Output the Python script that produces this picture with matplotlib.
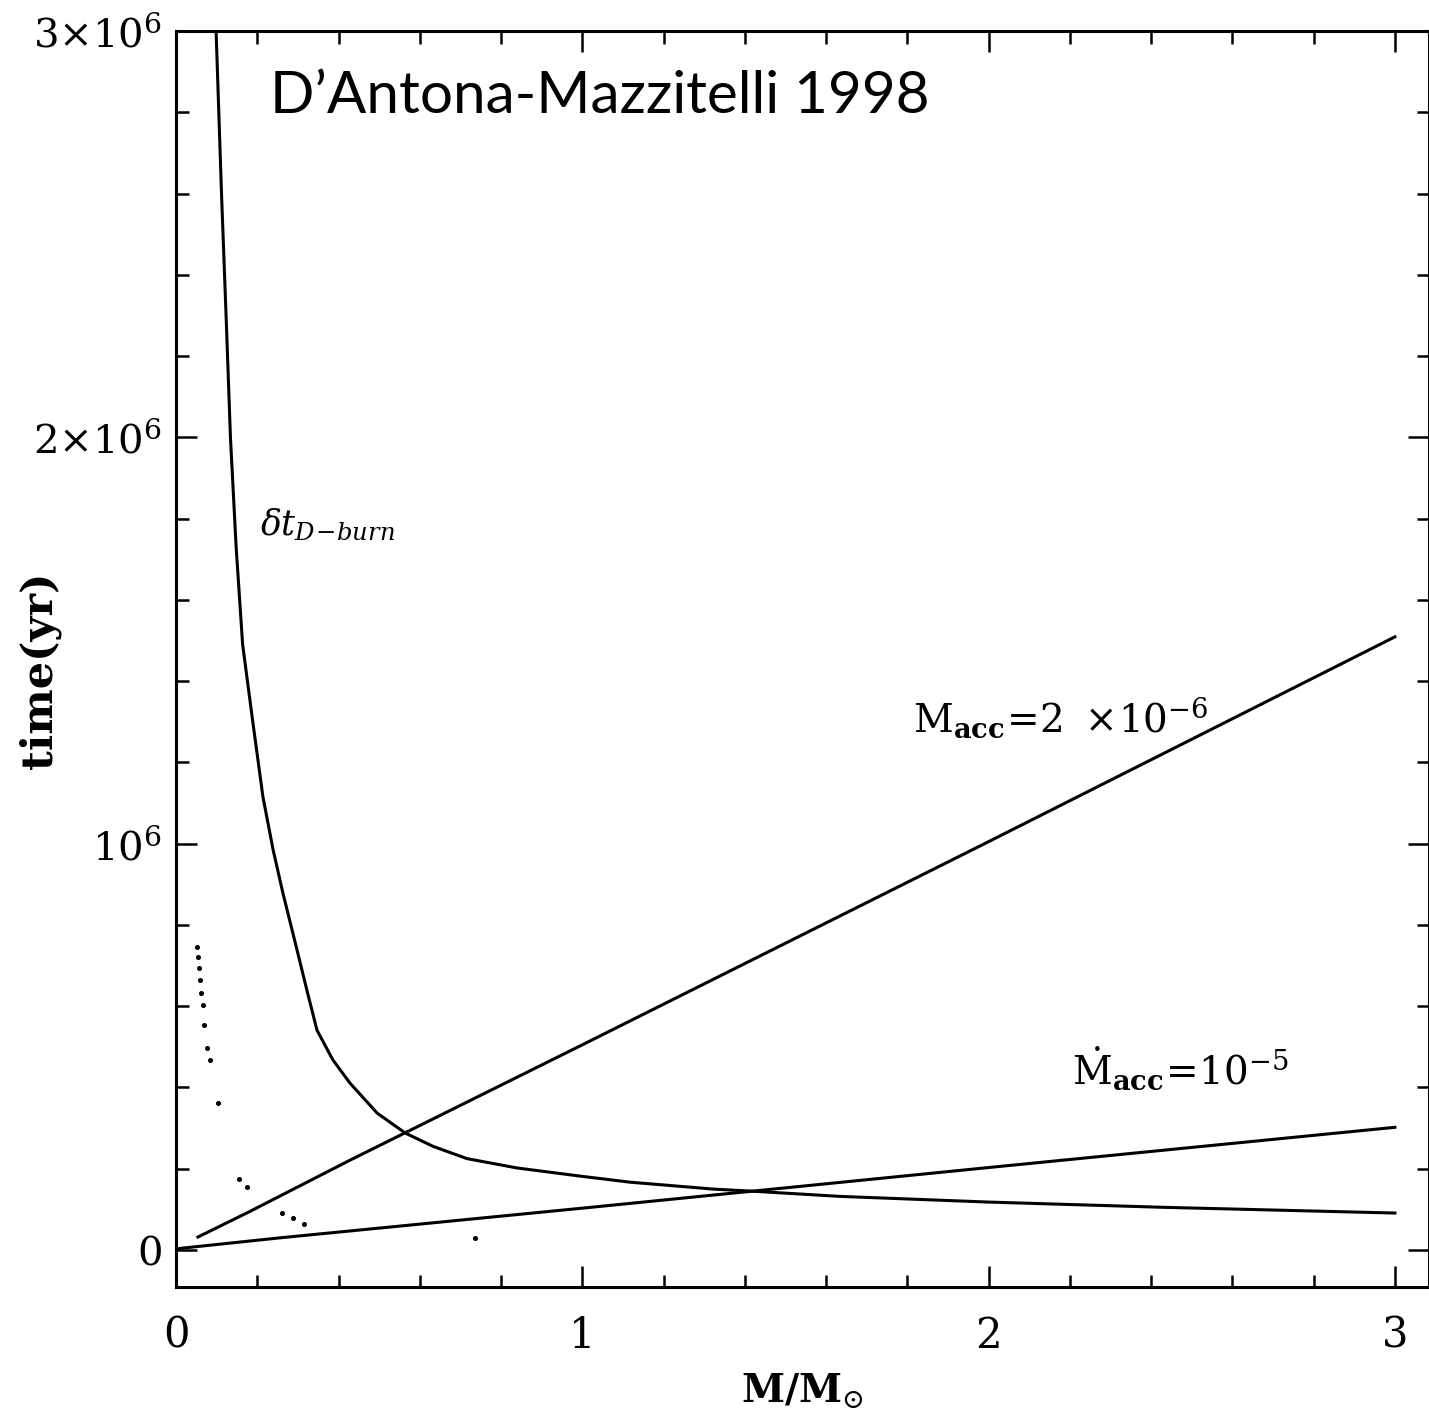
import matplotlib
matplotlib.use("Agg")
import matplotlib.pyplot as plt
from matplotlib.ticker import MultipleLocator

plt.rcParams['mathtext.fontset'] = 'dejavuserif'
plt.rcParams['font.family'] = ['DejaVu Serif']

# ---- data ----
# D-burning time-scale curve (M/Msun, yr)
dburn_m = [0.098, 0.112, 0.124, 0.134, 0.148, 0.164, 0.189, 0.214, 0.239, 0.263, 0.298,
           0.322, 0.347, 0.386, 0.428, 0.495, 0.564, 0.633, 0.716, 0.839, 0.994,
           1.117, 1.322, 1.415, 1.634, 2.0, 2.434, 3.0]
dburn_t = [3.02e6, 2.60e6, 2.28e6, 2.00e6, 1.73e6, 1.49e6, 1.30e6, 1.115e6, 0.985e6, 0.879e6, 0.738e6,
           0.640e6, 0.541e6, 0.468e6, 0.411e6, 0.337e6, 0.288e6, 0.255e6, 0.225e6, 0.202e6, 0.182e6,
           0.167e6, 0.150e6, 0.145e6, 0.132e6, 0.118e6, 0.105e6, 0.091e6]

# accretion time for Mdot = 2e-6 Msun/yr
acc2_m = [0.054, 0.18, 0.43, 1.0, 2.0, 3.0]
acc2_t = [0.032e6, 0.094e6, 0.222e6, 0.505e6, 1.005e6, 1.509e6]

# accretion time for Mdot = 1e-5 Msun/yr
acc1_m = [0.0, 0.256, 1.0, 2.0, 3.0]
acc1_t = [0.003e6, 0.030e6, 0.103e6, 0.203e6, 0.302e6]

# faint dotted sequence
dot_m = [0.051, 0.055, 0.057, 0.059, 0.061, 0.066, 0.069, 0.076, 0.084, 0.103,
         0.156, 0.174, 0.260, 0.289, 0.315, 0.736]
dot_t = [0.746e6, 0.722e6, 0.693e6, 0.665e6, 0.632e6, 0.603e6, 0.554e6, 0.496e6, 0.468e6, 0.361e6,
         0.176e6, 0.156e6, 0.090e6, 0.078e6, 0.064e6, 0.030e6]

xticks = [0, 1, 2, 3]
xtick_labels = ['0', '1', '2', '3']
yticks = [0, 1e6, 2e6, 3e6]
ytick_labels = [r'$0$', r'$10^{6}$', r'$2{\times}10^{6}$', r'$3{\times}10^{6}$']

W, H = 1429, 1411
fig = plt.figure(figsize=(W / 100, H / 100), dpi=100)
ax = fig.add_axes([176 / W, (H - 1287) / H, (W - 176) / W, (1287 - 31) / H])

lw = 2.2
ax.plot(dburn_m, dburn_t, color='black', lw=lw)
ax.plot(acc2_m, acc2_t, color='black', lw=lw)
ax.plot(acc1_m, acc1_t, color='black', lw=lw)
ax.plot(dot_m, dot_t, linestyle='none', marker='o', ms=2.6, color='black')

ax.set_xlim(0, (W - 176) / 406.3)
ax.set_ylim(-0.091e6, 3.0e6)

ax.set_xticks(xticks, xtick_labels)
ax.set_yticks(yticks, ytick_labels)
ax.xaxis.set_minor_locator(MultipleLocator(0.2))
ax.yaxis.set_minor_locator(MultipleLocator(0.2e6))
ax.tick_params(which='both', direction='in', top=True, right=True, width=1.8, color='black')
ax.tick_params(which='major', length=15)
ax.tick_params(which='minor', length=9)
ax.tick_params(axis='x', which='major', labelsize=30, pad=20)
ax.tick_params(axis='y', which='major', labelsize=29, pad=10)
for s in ax.spines.values():
    s.set_linewidth(2.2)

ax.set_xlabel(r'$\mathbf{M/M}_{\odot}$', fontsize=28, labelpad=10)
ylab = ax.set_ylabel('time(yr)', fontsize=31, fontweight='bold')
ax.yaxis.set_label_coords(-0.1085, 0.491)
ylab.set_verticalalignment('center')

# annotations
ax.text(0.207, 1.76e6, r'$\delta t_{D\!-\!burn}$', fontsize=25, ha='left', va='baseline')
ax.text(1.814, 1.275e6, r'$\mathrm{M}_{\mathbf{acc}}\!=\!2\ \times\!10^{-6}$', fontsize=28,
        ha='left', va='baseline')
ax.text(2.205, 0.406e6, r'$\dot{\mathrm{M}}_{\mathbf{acc}}\!=\!10^{-5}$', fontsize=28,
        ha='left', va='baseline')
ax.text(0.231, 2.798e6, 'D\u2019Antona-Mazzitelli 1998', fontsize=42, family='Lato',
        ha='left', va='baseline')

fig.savefig('out.png', dpi=100)
